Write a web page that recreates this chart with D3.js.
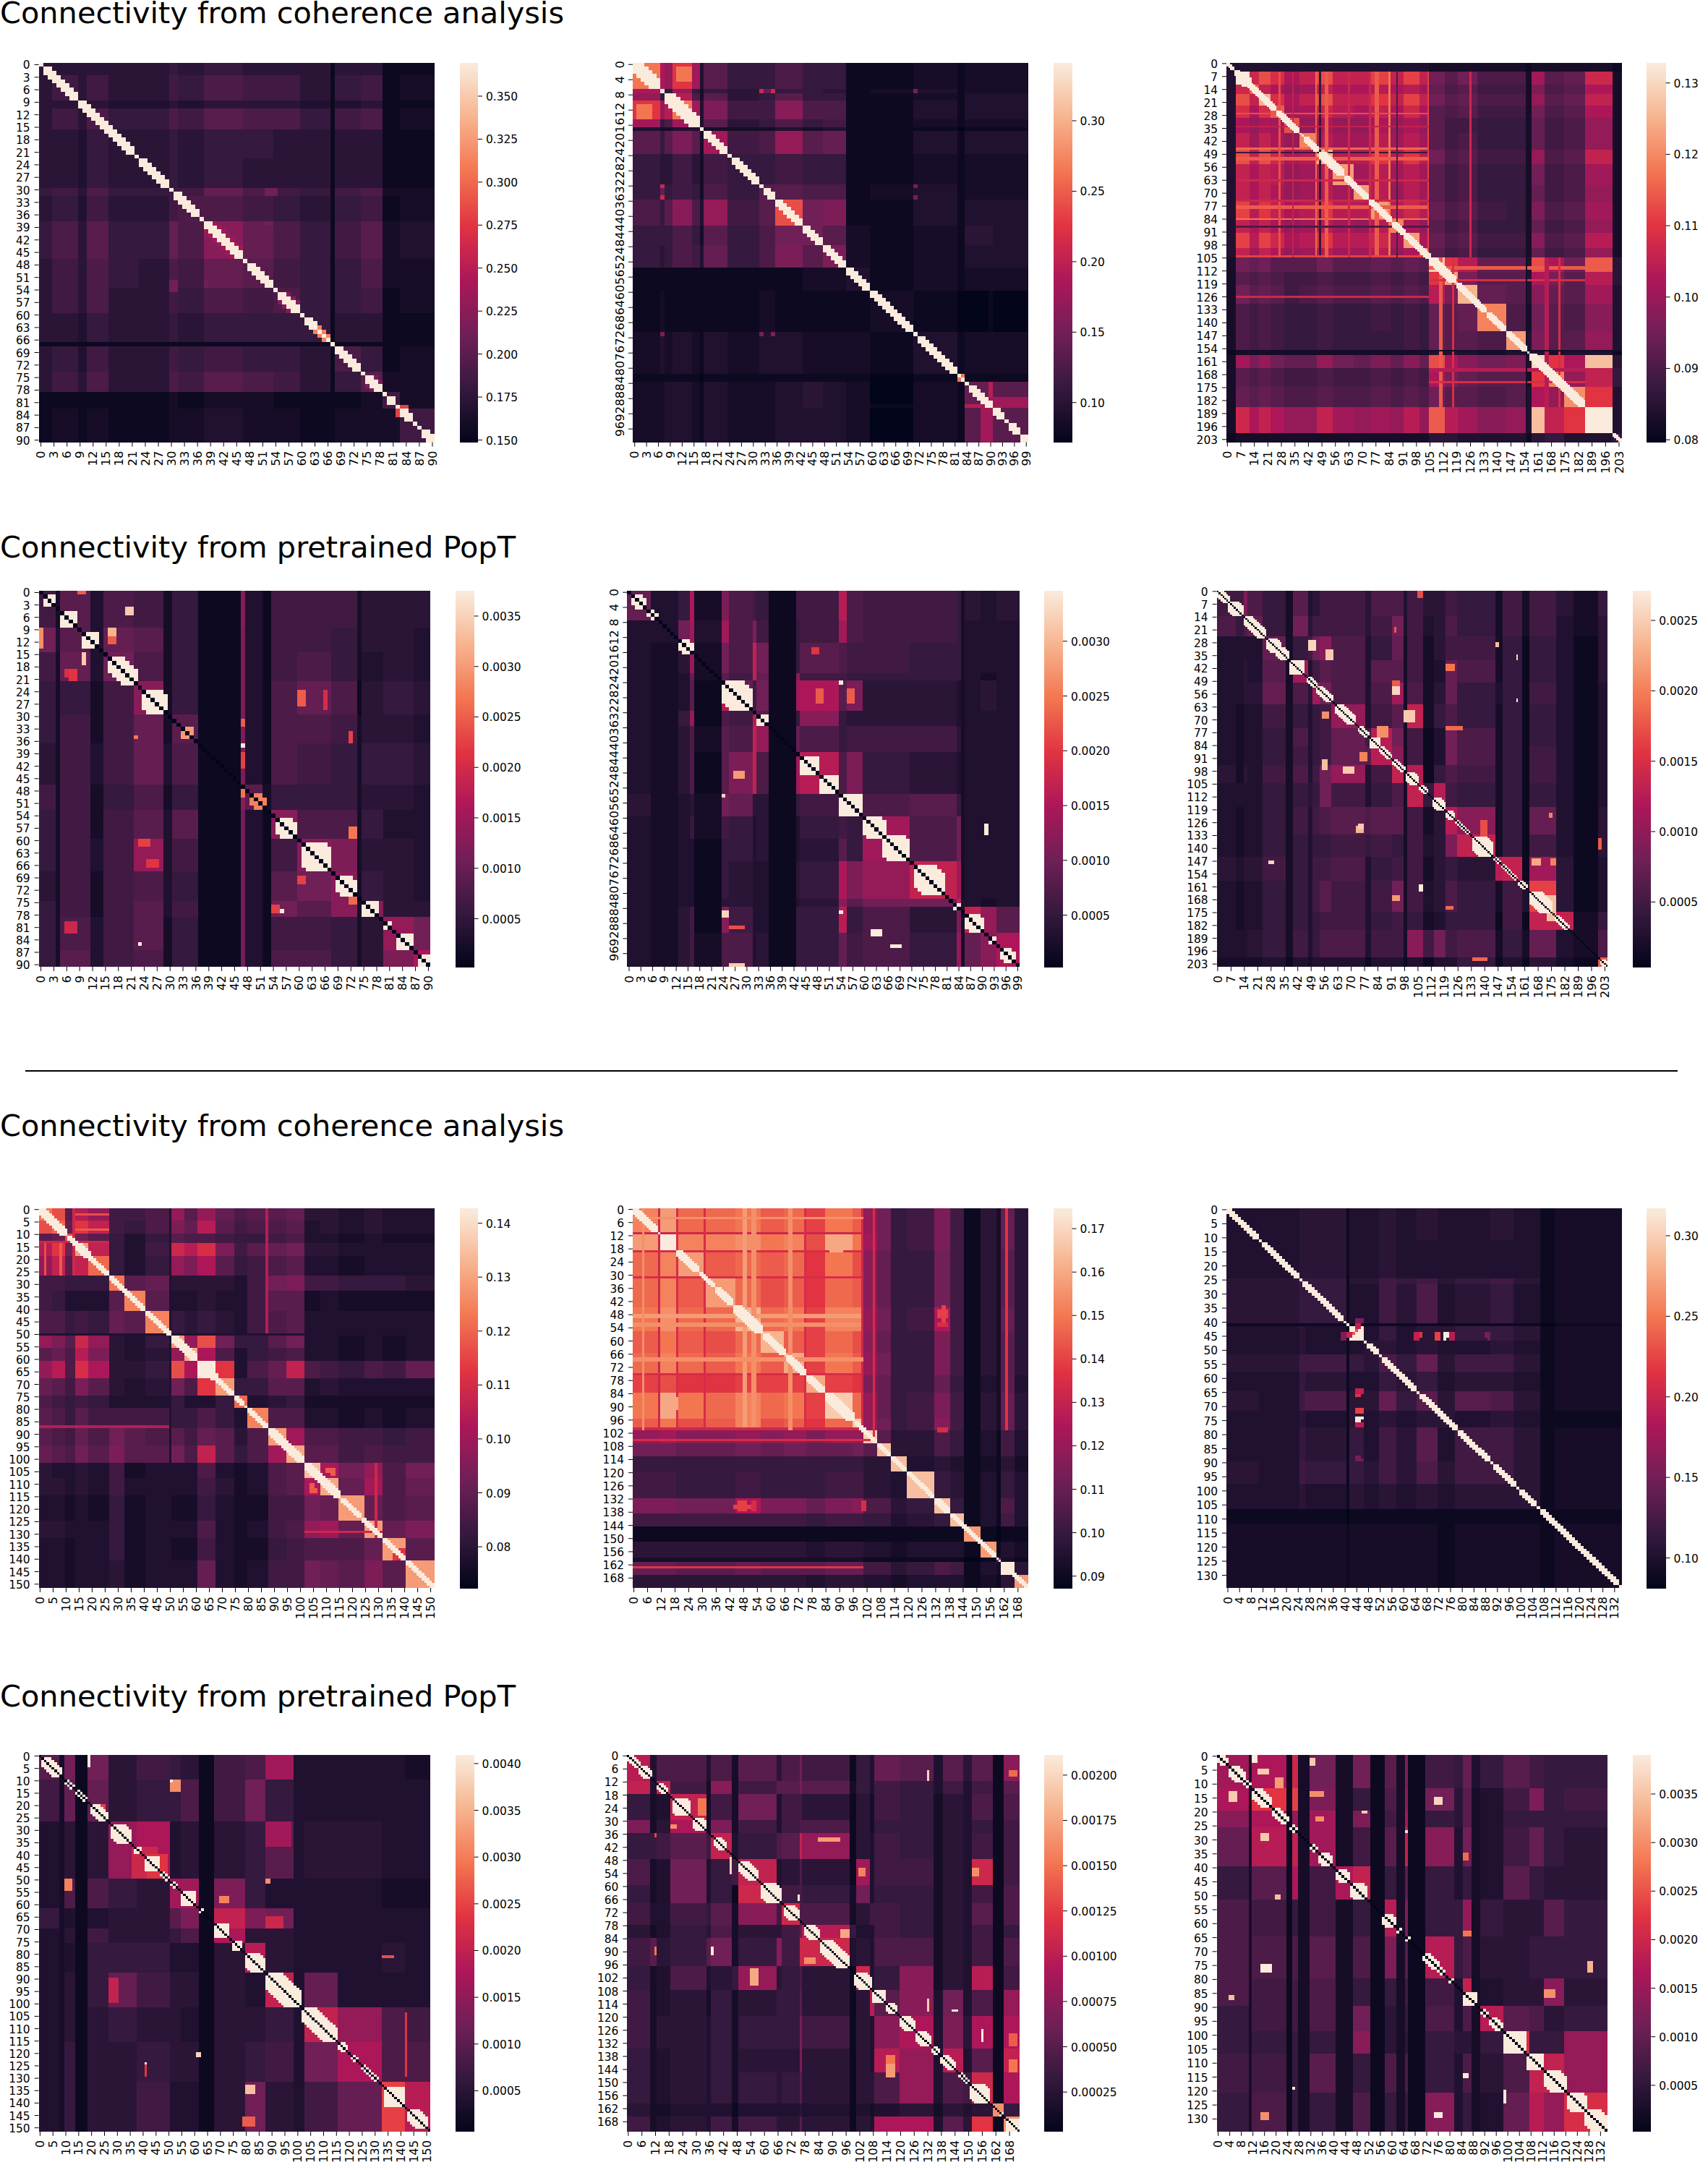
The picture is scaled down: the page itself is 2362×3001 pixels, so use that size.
<!DOCTYPE html>
<html><head><meta charset="utf-8">
<script src="https://cdn.jsdelivr.net/npm/d3@7"></script>
<style>html,body{margin:0;padding:0;background:#fff}svg{display:block}text{font-family:"DejaVu Sans";fill:#000}</style>
</head><body><svg id="c" width="2362" height="3001"></svg>
<script>
// Colormap stops (seaborn rocket)
const rocketStops=[0,1/7,2/7,3/7,4/7,5/7,6/7,1];
const rocketColors=["#03051a","#35193e","#701f57","#ad1759","#e13342","#f37651","#f6b48f","#faebdd"];
const titles=["Connectivity from coherence analysis","Connectivity from pretrained PopT"];

// Grid cells hold a level 0..z (base 36): 0 = bottom of the colour bar, z = top.
// ---- coherence panels: symmetric, upper triangle only
const p1Edges=[0,3,9,11,16,23,30,32,38,47,54,60,67,68,74,79,83,91];
const p1Grid=["4 4 4 4 4 4 5 4 5 4 4 4 1 4 4 1 1","6 4 6 4 4 6 5 7 6 6 4 1 5 6 1 2","4 4 3 3 4 3 4 4 4 3 1 3 4 1 1","7 5 5 7 6 8 7 7 5 1 6 7 1 2","4 4 5 4 5 5 4 4 1 4 4 1 1","4 5 4 5 4 4 4 1 4 4 1 1","6 6 9 7 6 5 1 6 7 2 2","7 7 6 5 4 1 5 6 1 2","c 9 7 5 1 6 8 2 3","8 6 5 1 5 7 2 2","7 5 1 5 6 1 2","5 1 4 4 1 1","1 1 1 1 1","7 5 1 2","8 2 2","6 2","6"];
const p1Blocks=[[1,8,1],[9,21,1],[23,29,1],[31,36,1],[38,46,2,"e"],[38,46,1],[48,53,1],[55,59,2,"c"],[55,59,1],[61,66,1],[63,66,1,"q"],[68,73,1],[75,78,2,"b"],[75,78,1],[80,81,1],[83,85,1],[88,90,1]];
const p1Patches=[[30,31,38,43,"9"],[30,32,52,55,"a"],[52,54,38,43,"a"],[39,44,52,54,"9"],[82,83,83,85,"l"]];

const p2Edges=[0,7,8,10,15,17,18,24,32,36,43,48,54,60,71,82,84,90,91,100];
const p2Grid=["p f d k e 3 8 5 5 7 5 5 1 1 2 1 2 2 2","5 5 d 5 2 5 4 9 5 5 4 1 2 3 1 2 2 2","j g 7 2 8 4 5 8 5 5 1 1 2 1 3 3 3","p e 3 b 6 6 c 7 7 1 1 3 1 3 3 3","9 3 8 4 5 7 5 6 1 1 2 1 2 2 2","2 2 2 2 3 2 3 1 1 1 0 1 1 1","e 6 7 d 8 9 1 1 3 1 3 3 3","5 5 6 5 5 1 1 2 1 2 2 2","8 8 7 7 1 2 3 1 2 2 2","m a b 1 1 3 1 3 3 3","a 8 2 1 2 1 4 4 3","b 2 1 2 1 3 3 3","3 1 2 1 2 2 2","2 1 0 0 1 0","3 1 2 2 2","f 1 1 1","9 g 8","8 e","8"];
const p2Blocks=[[0,6,2],[8,16,2],[18,23,1],[25,31,1],[33,35,1],[36,42,1],[43,47,1],[48,53,1],[54,59,1],[60,70,1],[72,81,1],[82,83,1,"p"],[85,90,1],[91,93,1],[95,97,1],[98,99,1]];
const p2Patches=[[7,8,32,33,"i"],[7,8,35,36,"i"],[7,8,71,72,"b"],[32,33,71,72,"b"],[35,36,71,72,"b"],[1,5,11,15,"p"],[88,91,90,100,"e"]];

const p3Edges=[0,5,12,17,23,30,38,47,55,66,75,85,92,100,105,113,120,130,145,155,158,165,175,186,200,205];
const p3Grid=["3 3 3 3 3 3 3 3 3 3 3 3 3 3 2 2 2 2 2 1 2 2 2 2 1","z i m j f h m h h l h l h a 8 a 7 7 2 e 8 9 i 2","n h f d e h f f g f g e 9 7 8 6 6 2 b 7 8 f 2","u j f h m h h k h l h a 8 9 7 7 2 d 8 9 h 2","n e f i g f h f i f 8 7 8 6 6 2 a 7 8 f 2","m d f d d f d f d 8 6 6 5 5 2 9 6 7 d 2","q g e e g e g e 8 6 7 5 5 2 9 6 7 d 2","u g g k g k g a 7 8 6 6 2 d 7 8 h 2","s e g e g e 8 6 7 5 5 2 a 6 7 e 2","s g d g e 8 6 7 5 5 2 9 6 7 d 2","s g i g 9 7 8 6 5 2 b 7 8 e 2","q f d 8 6 7 5 5 2 9 6 7 d 2","s f 9 7 8 6 6 2 c 7 8 g 2","s 8 6 7 5 5 2 9 6 7 d 2","w k g 9 9 3 m f a n 4","s b 8 8 3 f b 8 g 4","u 9 8 3 c 9 8 e 3","q 7 2 a 8 7 c 3","s 3 b 8 8 d 3","5 3 2 3 3 1","x k f v 4","q d h 5","r k 3","z 3","5"];
const p3Blocks=[[0,3,1],[4,25,2],[8,12,4],[26,37,2],[40,47,2],[48,60,3],[61,73,2],[74,85,2],[86,92,2],[92,105,2],[105,118,3],[119,134,2],[135,144,2],[145,155,2],[157,185,3],[186,199,14],[200,204,1]];
const p3Patches=[[48,49,5,105,"5"],[84,85,5,105,"p"],[46,47,5,105,"o"],[77,79,5,105,"n"],[104,105,5,105,"l"],[27,28,5,105,"m"],[34,35,5,105,"h"],[74,75,5,105,"i"],[51,53,5,105,"n"],[63,64,5,105,"i"],[88,89,5,105,"7"],[110,112,105,186,"n"],[117,118,105,186,"j"],[172,173,105,186,"j"],[165,167,105,186,"g"],[155,156,5,205,"2"],[126,127,5,105,"i"]];

const p7Edges=[0,5,10,14,19,27,33,41,51,56,61,68,75,80,88,95,102,108,115,125,132,141,152];
const p7Grid=["p m 8 g d 6 6 7 d 8 d 9 7 8 8 9 4 4 3 4 3 3","o 9 k h 6 5 7 b 9 g 8 6 7 7 8 3 4 3 4 3 3","m a 8 5 3 5 8 7 7 6 5 5 6 7 3 3 2 3 2 2","s h 5 3 6 i g j b 6 8 9 a 4 4 3 3 3 3","o 5 3 5 d b f 8 5 6 7 8 3 3 2 3 3 3","p 8 9 4 4 4 4 3 6 a b 6 6 5 5 5 4","q 8 3 3 4 3 3 6 8 8 2 3 2 2 2 2","q 5 4 5 4 3 6 7 8 3 3 3 3 3 3","s d m a 5 5 8 a 3 3 2 3 2 3","t f 7 3 5 6 7 3 3 2 3 2 3","z k 3 7 9 h 7 6 5 7 6 9","s 5 5 8 8 3 4 3 3 3 3","o 3 4 5 2 2 2 2 2 2","q 7 7 3 3 2 3 2 3","s e 7 7 6 6 5 6","t 8 8 6 7 6 6","v f a d 7 a","t 9 e 7 9","s 9 7 8","s 9 b","s 8","s"];
const p7Blocks=[[0,10,2],[11,14,1],[14,19,2],[19,26,1],[27,40,1],[41,50,1],[51,60,2],[61,68,2],[62,67,5],[68,74,1],[75,78,1],[80,87,1],[88,101,2],[102,115,2],[116,123,1],[124,131,1],[132,140,1],[141,151,1]];
const p7Patches=[[8,9,14,27,"n"],[2,3,14,27,"m"],[87,88,0,51,"g"],[50,51,0,102,"3"],[136,141,136,141,"k"],[13,14,0,27,"i"],[104,106,110,114,"n"],[112,114,104,107,"n"],[129,130,102,132,"i"]];

const p8Edges=[0,12,19,32,45,56,66,76,84,96,101,107,113,120,132,139,145,152,159,161,167,173];
const p8Grid=["q s o o p n o l p n d a 5 6 b 6 1 4 2 9 4","z q q r p q m t p e a 5 6 b 6 1 4 2 9 4","s n o n o k p m c 9 5 5 a 6 1 4 2 8 4","s o m n k o n c 9 5 5 a 6 1 4 2 8 4","u o p l q q d a 5 6 f 6 1 4 2 9 4","u n l o m c 9 5 5 b 6 1 4 2 8 4","t l p n d a 5 5 b 6 1 4 2 8 4","t l k b 9 5 5 9 5 1 3 2 8 3","w o d 9 5 6 b 6 1 4 2 9 4","w d a 5 6 c 6 1 4 2 9 4","w 8 4 4 7 5 1 3 1 6 3","v 4 4 7 5 1 3 1 6 3","v 3 4 3 1 2 1 4 2","v 5 4 1 3 1 5 3","v 5 1 3 1 7 3","v 1 3 1 6 3","s 1 0 1 1","s 1 3 2","a 2 1","z 4","s"];
const p8Blocks=[[0,10,2],[12,12,0],[12,18,6],[19,28,2],[29,35,1],[36,43,2],[44,56,3],[57,66,2],[67,75,2],[76,83,2],[84,96,3],[97,106,1],[107,112,1],[113,119,1],[120,131,1],[132,138,2],[139,145,1],[145,158,1],[161,165,4],[166,172,1]];
const p8Patches=[[11,12,0,101,"i"],[31,32,0,101,"j"],[19,20,0,101,"j"],[75,76,0,101,"j"],[105,106,0,107,"j"],[48,50,0,101,"s"],[52,54,0,101,"r"],[100,101,0,101,"i"],[163,164,0,101,"k"],[86,92,12,20,"t"],[135,137,44,52,"l"],[46,50,133,138,"l"],[52,54,133,138,"j"],[100,102,133,138,"j"],[4,5,0,101,"r"],[68,70,0,101,"r"]];

const p9Edges=[0,11,25,27,41,42,47,52,58,65,72,78,90,98,107,112,135];
const p9Grid=["3 3 4 4 1 3 3 4 3 4 3 3 4 3 1 2","3 4 4 1 3 3 4 3 3 3 3 3 3 1 2","6 5 1 4 4 6 5 6 4 5 6 4 1 2","5 1 3 3 6 4 7 3 4 5 3 1 2","1 1 1 1 1 1 1 1 1 1 0 1","z 3 5 3 4 4 5 5 4 1 2","4 4 3 4 3 3 4 3 1 2","7 5 9 4 6 6 4 1 2","4 5 3 4 4 3 1 2","8 4 8 7 4 1 2","4 3 4 3 1 1","6 6 4 1 2","6 4 1 2","4 1 2","1 1","2"];
const p9Blocks=[[0,10,1],[12,24,1],[26,39,1],[40,40,0],[42,43,1],[44,46,2],[48,51,1],[53,64,1],[66,78,1],[79,89,1],[91,98,1],[100,105,1],[107,133,1],[134,134,0]];
const p9Patches=[[44,46,40,43,"h"],[44,46,65,67,"k"],[44,46,71,73,"m"],[44,46,74,75,"q"],[44,46,75,76,"z"],[44,46,76,78,"h"],[44,46,88,90,"b"],[39,41,44,47,"b"],[74,75,44,47,"z"],[71,73,44,47,"l"],[64,66,44,47,"h"],[76,78,44,47,"g"],[89,90,44,47,"a"],[43,44,42,45,"m"]];

// ---- PopT panels: rows and columns differ
const p4RowEdges=[0,9,15,22,30,37,47,53,60,68,75,79,87,91];
const p4ColEdges=[0,4,5,12,15,22,29,31,37,47,48,52,54,60,68,74,75,80,87,91];
const p4Grid=["6 2 8 3 7 6 2 5 1 c 3 1 6 6 6 2 4 4 4","a 3 8 3 9 8 2 5 1 b 3 1 6 6 5 2 4 4 3","6 2 9 3 a 7 2 5 1 b 3 1 6 7 5 2 3 4 3","5 2 5 2 6 c 2 5 1 b 3 1 7 9 7 1 4 5 4","5 2 6 2 6 9 2 8 1 b 3 1 7 7 6 2 4 4 3","4 2 6 3 6 9 3 7 1 b 3 1 7 6 5 2 5 5 4","6 2 6 2 5 7 2 5 1 c 8 2 5 5 5 2 4 4 3","5 2 6 2 6 8 3 8 1 a 3 1 c 7 7 2 5 3 3","5 2 6 3 6 d 3 6 1 a 3 1 6 c b 2 4 4 3","4 2 6 2 6 7 3 5 1 a 3 1 8 a c 2 5 4 3","5 2 6 2 6 8 3 6 1 a 3 1 a 8 c 2 c 4 4","5 2 7 3 6 8 2 5 1 a 3 1 6 6 5 2 4 d a","5 2 8 3 6 7 2 5 1 a 3 1 7 7 5 2 4 b f"];
const p4Blocks=[[1,3,2],[5,8,3],[10,13,3],[16,22,3],[24,29,4],[33,35,2,"s"],[49,52,2,"q"],[55,59,3],[61,67,5],[69,73,3],[75,78,3],[80,81,1],[83,86,3],[88,90,2]];
const p4Patches=[[4,6,20,22,"w"],[9,11,16,18,"u"],[11,13,16,18,"n"],[19,21,6,8,"j"],[15,18,10,11,"w"],[9,14,0,1,"r"],[24,28,60,62,"n"],[24,29,66,67,"j"],[34,37,72,73,"l"],[35,36,22,23,"p"],[57,60,72,74,"p"],[60,62,23,26,"l"],[65,67,25,28,"k"],[69,71,60,62,"l"],[77,78,55,57,"z"],[85,86,23,24,"z"],[37,38,47,48,"z"],[39,43,47,48,"l"],[31,33,47,48,"n"],[48,50,47,48,"p"],[80,83,6,9,"i"],[0,1,9,11,"n"],[10,12,12,14,"l"],[72,76,72,74,"o"],[76,78,54,56,"l"],[34,36,34,36,"q"],[19,22,7,9,"k"]];

const p5RowEdges=[0,8,14,22,24,32,36,43,54,60,66,72,82,84,91,100];
const p5ColEdges=[0,6,13,16,17,24,26,32,33,36,43,44,54,56,60,72,84,85,86,90,94,100];
const p5Grid=["9 3 5 f 2 b 7 6 5 1 6 6 g 7 6 6 5 2 4 3 4","3 3 a e 3 e 7 b 6 1 5 6 e 7 6 6 5 2 3 3 3","3 2 4 d 2 a 7 h a 1 5 8 7 6 6 5 5 2 3 3 3","3 2 3 9 2 8 6 h 9 1 c 6 6 5 5 5 5 2 3 2 3","3 2 3 8 1 g 9 6 a 1 e f 8 b 4 4 3 2 3 4 3","3 2 5 d 1 7 6 g 8 1 5 c 5 4 4 4 3 2 3 3 3","3 2 4 7 2 8 7 h d 1 9 7 5 6 6 6 4 2 3 3 3","3 2 4 7 1 8 b h 7 1 e g 7 b 5 4 3 2 3 3 3","4 2 3 4 2 a 9 4 4 1 5 6 g e 7 8 5 2 3 3 3","3 2 3 5 2 6 5 3 4 1 3 5 6 5 e 7 a 2 3 3 3","3 2 3 3 1 5 5 3 4 1 3 4 8 5 e 7 a 2 3 3 3","3 2 3 3 1 5 4 3 3 1 4 5 f b d h e 2 3 3 3","3 2 3 3 1 4 4 3 3 1 3 4 c 8 a a h 3 3 2 3","3 2 4 6 1 c 6 3 3 1 5 5 g 5 7 4 b 2 h d 8","3 2 4 6 2 7 7 3 4 1 5 5 9 6 7 5 d 2 9 c f"];
const p5Blocks=[[1,4,2],[5,7,1],[13,16,2],[24,31,5],[33,35,2],[44,48,4],[49,53,4],[54,59,5],[60,65,4],[65,71,5],[73,80,5],[83,84,1],[86,90,3],[92,93,1],[95,98,2]];
const p5Patches=[[90,92,62,65,"z"],[94,95,67,70,"z"],[62,65,91,92,"z"],[24,25,54,55,"z"],[85,87,24,26,"x"],[85,86,54,55,"z"],[26,30,48,50,"n"],[26,30,56,58,"n"],[48,50,27,30,"s"],[99,100,26,30,"w"],[54,55,24,25,"x"],[15,17,47,49,"k"],[89,90,26,30,"m"]];

const p6RowEdges=[0,14,25,38,50,62,75,85,95,105,118,133,145,158,175,185,200,205];
const p6ColEdges=[0,10,14,16,24,36,40,48,50,54,60,78,81,92,98,100,108,114,120,126,146,150,160,164,178,187,200,205];
const p6Grid=["6 6 b 7 5 2 8 3 4 6 6 4 7 7 3 6 4 4 6 5 2 6 2 6 4 2 5","7 5 7 9 5 2 a 4 6 6 6 4 6 a 3 6 3 4 7 5 2 6 2 6 3 2 4","3 3 3 3 9 2 5 6 a c 7 3 5 9 2 6 2 4 6 6 2 5 1 5 3 1 4","3 3 4 3 8 2 e 3 6 8 7 3 8 8 2 6 2 3 9 7 2 5 1 5 3 1 4","3 3 4 4 9 2 7 4 e a 7 3 7 e 2 7 2 4 9 5 3 5 1 6 3 1 3","3 2 3 3 6 2 5 3 5 6 d 3 6 8 2 h 2 5 7 5 2 5 1 5 3 1 3","3 2 3 3 5 2 7 3 5 6 9 6 g a 2 6 1 3 a 7 2 5 1 5 3 1 3","3 2 3 3 5 2 6 3 5 6 9 8 g c 2 6 1 3 a 7 2 5 1 6 3 1 3","4 2 4 3 6 2 7 3 6 a d 3 6 h 2 g 1 5 7 6 2 5 1 6 3 1 3","3 3 3 3 5 2 5 4 5 a 6 3 5 7 2 h 5 g 6 5 2 5 1 5 3 1 3","3 2 3 3 5 2 6 3 6 7 8 7 8 8 2 6 2 4 g c 2 5 1 9 3 1 4","3 2 3 3 5 2 5 3 5 5 6 5 6 5 2 6 3 4 b h 2 5 1 6 3 1 4","4 3 4 4 6 2 5 3 6 6 7 3 5 6 2 6 2 4 5 4 g h 1 e 4 1 3","3 2 3 3 5 2 5 3 6 8 6 3 6 a 2 6 3 4 7 5 2 6 3 l 4 1 3","3 2 3 3 5 2 5 3 5 6 6 3 5 6 2 5 2 3 5 5 1 6 1 h h 2 5","3 3 3 4 5 2 6 3 5 7 7 3 6 6 2 c 6 a 6 7 2 5 2 9 3 2 7","2 2 2 2 3 1 3 2 3 3 3 1 3 3 1 3 1 3 3 5 1 3 1 4 2 1 n"];
const p6Blocks=[[0,6,3],[6,13,5],[14,25,4],[26,33,5],[31,37,4],[38,45,7],[47,52,2],[52,60,3],[62,72,4],[74,79,2],[80,85,5],[85,91,2],[92,98,2],[99,105,4],[106,110,2],[113,119,4],[120,124,3],[125,132,1],[134,144,7],[145,148,1],[149,157,1],[158,162,2],[164,175,6],[177,184,2],[201,204,2]];
const p6Patches=[[27,33,48,52,"x"],[32,38,57,61,"w"],[49,54,92,96,"n"],[52,57,92,96,"x"],[65,72,98,104,"w"],[96,100,66,72,"w"],[92,98,55,58,"v"],[66,70,55,59,"r"],[160,164,106,108,"z"],[166,169,92,96,"s"],[40,44,120,125,"p"],[28,31,146,148,"v"],[35,38,157,158,"x"],[59,61,157,158,"z"],[128,132,73,77,"u"],[147,149,27,30,"x"],[146,150,165,170,"t"],[146,150,175,178,"q"],[172,174,120,124,"o"],[200,202,134,142,"o"],[135,141,200,202,"n"],[74,80,84,90,"r"],[88,93,75,79,"q"],[74,76,120,129,"o"],[166,180,173,178,"v"],[125,135,138,142,"m"],[127,130,74,77,"w"],[121,124,174,176,"q"],[0,4,105,108,"m"],[20,23,93,94,"n"]];

const p10RowEdges=[0,10,27,50,62,70,76,88,102,116,132,152];
const p10ColEdges=[0,8,10,14,19,27,38,51,55,62,68,80,88,99,103,116,133,142,152];
const p10Grid=["8 2 a 1 a 4 6 5 4 1 6 7 e 3 3 3 3 2","6 2 9 1 9 4 5 5 7 1 6 a 5 3 3 3 3 3","3 2 4 1 4 d f 3 4 1 4 5 8 3 4 4 3 3","3 2 7 1 7 5 4 e e 1 b 5 3 3 3 3 2 2","5 2 3 1 3 4 4 8 b 1 h b a 3 3 3 3 3","3 2 4 1 6 4 4 5 7 1 f 4 4 3 3 3 3 3","3 2 3 1 5 5 5 3 3 1 4 g 4 3 3 3 4 3","3 2 4 1 5 9 6 4 4 1 4 3 h 3 9 3 3 3","3 2 4 1 4 5 4 4 3 1 4 4 5 3 h d 7 6","3 2 5 1 4 4 5 4 4 1 4 5 6 3 a f 7 7","3 2 5 1 4 4 6 3 3 1 4 a 4 3 6 9 l g"];
const p10Blocks=[[1,8,3],[10,13,1],[14,18,1],[20,26,3],[28,35,5],[37,39,2],[41,46,5],[47,50,1],[51,53,1],[55,60,5],[62,63,1],[68,73,5],[75,78,3],[80,87,5],[88,101,6],[102,115,5],[116,119,2],[121,123,1],[125,131,1],[134,141,7],[143,150,4]];
const p10Patches=[[0,5,19,20,"z"],[133,137,80,84,"v"],[120,122,61,63,"x"],[10,15,51,55,"r"],[50,55,10,13,"q"],[27,37,88,98,"e"],[90,100,27,31,"h"],[81,82,133,138,"m"],[104,130,142,143,"k"],[124,130,41,42,"k"],[20,24,20,26,"l"],[57,60,70,74,"q"],[50,52,88,90,"r"],[37,50,36,46,"i"],[40,50,42,50,"k"],[65,70,88,95,"i"],[10,11,51,52,"z"],[124,125,41,42,"z"],[146,150,79,84,"n"]];

const p11RowEdges=[0,12,18,30,36,48,60,68,78,84,97,108,120,135,146,160,166,173];
const p11ColEdges=[0,10,13,19,35,37,46,49,66,68,76,77,98,101,107,109,120,135,139,148,152,161,166,173];
const p11Grid=["g 3 7 7 3 7 2 8 4 7 a 6 1 5 3 9 8 3 8 4 8 1 c","h 3 h 6 2 c 2 6 8 8 a 8 2 5 3 6 5 3 6 3 6 1 8","5 2 3 h 2 6 2 a 3 6 6 4 1 4 2 6 5 2 4 3 7 1 7","b 2 4 f 2 b 2 6 3 6 7 7 1 4 2 5 5 2 4 3 5 1 6","5 5 6 8 6 h 3 5 7 8 h d 1 4 3 6 5 2 4 3 6 1 6","7 2 3 a 3 5 6 h 3 4 7 4 1 e 3 6 6 2 4 3 i 1 6","5 2 3 a 3 5 1 i 3 6 7 5 2 a 3 5 5 2 4 3 6 1 7","6 3 3 6 5 8 2 c 6 i 7 7 2 4 6 6 5 2 4 3 8 1 7","4 2 3 5 4 7 2 4 4 6 9 g 5 3 3 6 5 2 4 3 6 1 5","6 8 4 5 8 a 2 5 c 6 i i 3 4 3 7 7 2 4 3 6 1 7","5 2 3 7 3 4 5 d 4 5 7 4 1 i 3 5 c 2 4 3 g 1 6","6 2 3 4 2 5 2 4 5 5 8 4 1 4 g 8 c 3 a 3 7 1 d","6 2 4 4 3 5 2 5 5 5 b 6 1 4 3 c f 3 b 4 f 1 f","5 2 3 4 3 5 2 4 4 4 b 4 1 4 3 g d 3 g 3 8 1 h","5 2 3 4 3 5 2 5 4 5 8 4 1 4 4 7 d 3 7 6 i 1 f","4 2 2 3 3 3 1 3 3 3 4 3 1 3 2 3 4 2 4 3 4 r 5","6 2 3 4 3 6 2 6 4 4 8 4 1 4 3 f f 3 8 4 k 1 r"];
const p11Blocks=[[0,5,2],[5,10,3],[13,17,2],[20,27,6],[29,34,4],[38,43,3],[49,57,4],[59,67,6],[69,75,4],[78,84,4],[85,97,5],[100,107,5],[108,113,5],[114,118,3],[120,126,4],[127,133,4],[134,137,2],[138,144,3],[146,150,1],[151,159,6],[164,165,1],[167,172,6]];
const p11Patches=[[7,12,132,133,"x"],[47,55,45,46,"x"],[112,118,132,133,"w"],[64,67,75,76,"z"],[88,92,37,38,"z"],[88,92,12,13,"p"],[142,148,114,118,"s"],[138,142,114,118,"p"],[36,38,12,13,"l"],[38,40,84,94,"s"],[52,56,102,105,"q"],[52,56,152,155,"r"],[117,118,143,146,"z"],[126,132,156,157,"z"],[98,106,54,58,"t"],[80,84,94,98,"t"],[93,96,78,83,"r"],[7,10,168,172,"o"],[20,28,31,35,"p"],[32,34,19,22,"r"],[128,134,168,172,"n"],[140,146,168,172,"p"]];

const p12RowEdges=[0,12,20,26,40,52,65,80,90,99,107,121,135];
const p12ColEdges=[0,11,12,24,26,28,32,41,47,53,58,62,65,66,72,82,85,88,91,99,108,113,120,135];
const p12Grid=["e 2 f 1 i 2 a 2 a 1 8 2 b 1 6 5 9 3 5 8 6 5 5","f 2 k 1 l 2 b 2 5 1 7 2 c 1 a 4 8 2 3 6 b 5 6","c 2 f 1 d 2 e 2 b 1 6 2 e 1 5 4 8 2 3 5 5 5 5","9 2 g 1 h 2 e 2 6 1 8 2 h 1 c 3 a 2 3 6 9 5 4","5 2 8 1 f 2 6 f h 1 5 2 8 1 5 3 5 2 3 8 5 4 4","7 2 6 1 5 2 6 2 5 1 g 2 b 1 5 5 d 2 5 4 4 8 5","7 2 7 1 7 2 8 2 7 1 b 2 8 1 g 5 7 2 4 4 5 5 5","7 2 6 1 6 2 7 2 5 1 5 2 6 1 6 3 h 2 3 4 4 c 4","5 2 6 1 6 2 7 2 a 1 4 2 5 1 7 3 7 2 g 8 7 4 5","5 2 5 1 5 2 5 2 c 1 4 2 4 1 5 4 4 2 5 j 5 5 d","6 2 6 1 5 2 8 2 5 1 7 2 7 1 5 3 7 2 4 7 h h d","5 2 7 1 5 2 5 2 7 1 5 2 5 1 c 3 5 2 3 9 g d j"];
const p12Blocks=[[0,3,2],[4,9,3],[9,11,1],[12,18,3],[19,24,2],[25,27,1],[32,34,1],[35,39,3],[41,45,3],[46,51,4],[57,61,3],[62,63,1],[65,66,1],[71,76,2],[76,78,1],[80,81,1],[85,89,4],[91,93,1],[94,98,2],[99,106,7],[107,112,5],[113,120,5],[121,127,5],[127,134,5]];
const p12Patches=[[0,3,12,14,"z"],[1,4,32,34,"w"],[5,7,14,18,"w"],[8,12,20,23,"s"],[13,17,4,7,"w"],[75,78,15,19,"z"],[128,131,15,18,"r"],[128,130,75,78,"z"],[15,18,75,78,"x"],[28,31,15,18,"w"],[20,21,50,52,"w"],[50,52,20,22,"v"],[22,24,34,37,"r"],[84,87,113,117,"r"],[114,116,85,87,"z"],[86,88,4,6,"v"],[27,28,65,66,"z"],[119,120,26,27,"z"],[74,78,128,130,"u"],[35,38,85,87,"o"],[63,65,85,88,"p"],[13,15,32,37,"r"],[120,125,99,100,"z"]];

// Tick labels and colour-bar ticks
const cbarTicks=[
 d3.range(9).map(i=>0.15+i*0.025),[0.10,0.15,0.20,0.25,0.30],[0.08,0.09,0.10,0.11,0.12,0.13],
 [0.0005,0.0010,0.0015,0.0020,0.0025,0.0030,0.0035],[0.0005,0.0010,0.0015,0.0020,0.0025,0.0030],[0.0005,0.0010,0.0015,0.0020,0.0025],
 [0.08,0.09,0.10,0.11,0.12,0.13,0.14],[0.09,0.10,0.11,0.12,0.13,0.14,0.15,0.16,0.17],[0.10,0.15,0.20,0.25,0.30],
 [0.0005,0.0010,0.0015,0.0020,0.0025,0.0030,0.0035,0.0040],d3.range(1,9).map(i=>i*0.00025),[0.0005,0.0010,0.0015,0.0020,0.0025,0.0030,0.0035]];
const cbarFormats=[".3f",".2f",".2f",".4f",".4f",".4f",".2f",".2f",".2f",".4f",".5f",".4f"];
const nodeCounts=[91,100,205,91,100,205,152,173,135,152,173,135];
const colorRanges=[[.1485,.3693],[.0716,.341],[.0796,.1328],[.00002,.00375],[.000025,.00346],[.000037,.00271],[.0723,.1427],[.0872,.1746],[.0812,.3168],[.00006,.00409],[.00003,.00211],[.00002,.0039]];
const xTickSteps=[3,3,7,3,3,7,5,6,4,5,6,4];
const yTickSteps=[3,4,7,3,4,7,5,6,5,5,6,5];

// Layout (separate from data)
const colX=[[[53.6,601,635.7,661],[875,1422,1456.6,1482.6],[1696,2243,2277,2303.6]],[[53.6,595.4,630,655.6],[867.3,1410.2,1443.9,1469.9],[1682.6,2223.4,2258,2283.2]]];
const rowY=[[86.6,611.6],[816.6,1337],[1671,2196],[2426.8,2947.8]];
const titleLayout=[[0,31.5],[1,771],[0,1571],[1,2360]];
const FS=16.4, SX=0.94;

const panels=[
 {sym:true,re:p1Edges,ce:p1Edges,g:p1Grid,b:p1Blocks,p:p1Patches,diag:"z"},
 {sym:true,re:p2Edges,ce:p2Edges,g:p2Grid,b:p2Blocks,p:p2Patches,diag:"z",rotY:true},
 {sym:true,re:p3Edges,ce:p3Edges,g:p3Grid,b:p3Blocks,p:p3Patches,diag:"z"},
 {re:p4RowEdges,ce:p4ColEdges,g:p4Grid,b:p4Blocks,p:p4Patches,diag:"0"},
 {re:p5RowEdges,ce:p5ColEdges,g:p5Grid,b:p5Blocks,p:p5Patches,diag:"0",rotY:true},
 {re:p6RowEdges,ce:p6ColEdges,g:p6Grid,b:p6Blocks,p:p6Patches,diag:"0"},
 {sym:true,re:p7Edges,ce:p7Edges,g:p7Grid,b:p7Blocks,p:p7Patches,diag:"z"},
 {sym:true,re:p8Edges,ce:p8Edges,g:p8Grid,b:p8Blocks,p:p8Patches,diag:"z"},
 {sym:true,re:p9Edges,ce:p9Edges,g:p9Grid,b:p9Blocks,p:p9Patches,diag:"z"},
 {re:p10RowEdges,ce:p10ColEdges,g:p10Grid,b:p10Blocks,p:p10Patches,diag:"0"},
 {re:p11RowEdges,ce:p11ColEdges,g:p11Grid,b:p11Blocks,p:p11Patches,diag:"0"},
 {re:p12RowEdges,ce:p12ColEdges,g:p12Grid,b:p12Blocks,p:p12Patches,diag:"0"}
];

const svg=d3.select("#c");
const lvl=c=>parseInt(c,36)/35;

titleLayout.forEach(([ti,y])=>{
  svg.append("text").attr("x",0).attr("y",y).attr("font-size",41)
    .attr("textLength",ti===0?780:713).attr("lengthAdjust","spacingAndGlyphs").text(titles[ti]);
});
svg.append("line").attr("x1",35).attr("x2",2320).attr("y1",1481).attr("y2",1481).attr("stroke","#000").attr("stroke-width",2);

panels.forEach((P,idx)=>{
  const row=Math.floor(idx/3), col=idx%3;
  const [x0,x1,cx0,cx1]=colX[row%2][col], [y0,y1]=rowY[row];
  const n=nodeCounts[idx], [vmin,vmax]=colorRanges[idx];
  const val=c=>vmin+lvl(c)*(vmax-vmin);
  const color=d3.scaleLinear().domain(rocketStops.map(t=>vmin+t*(vmax-vmin))).range(rocketColors).clamp(true);
  const x=d3.scaleLinear().domain([0,n]).range([x0,x1]);
  const y=d3.scaleLinear().domain([0,n]).range([y0,y1]);
  const g=svg.append("g").attr("shape-rendering","crispEdges");
  const rects=[];
  const add=(r0,r1,c0,c1,ch)=>rects.push({r0,r1,c0,c1,v:val(ch)});
  const rows=P.g.map(s=>s.replace(/ /g,""));
  for(let i=0;i<P.re.length-1;i++){
    for(let j=0;j<P.ce.length-1;j++){
      let ch;
      if(P.sym){ const a=Math.min(i,j),b=Math.max(i,j); ch=rows[a][b-a]; }
      else ch=rows[i][j];
      add(P.re[i],P.re[i+1],P.ce[j],P.ce[j+1],ch||"3");
    }
  }
  P.p.forEach(([r0,r1,c0,c1,ch])=>{
    add(r0,r1,c0,c1,ch);
    if(P.sym) add(c0,c1,r0,r1,ch);
  });
  P.b.forEach(([a,b,w,ch])=>{
    for(let i=a;i<=b;i++)for(let j=a;j<=b;j++){
      if(Math.abs(i-j)<=w) add(i,i+1,j,j+1,ch||"z");
    }
  });
  d3.range(n).forEach(i=>add(i,i+1,i,i+1,P.diag));
  g.selectAll("rect").data(rects).join("rect")
    .attr("x",d=>x(d.c0)).attr("y",d=>y(d.r0))
    .attr("width",d=>x(d.c1)-x(d.c0)).attr("height",d=>y(d.r1)-y(d.r0))
    .attr("fill",d=>color(d.v));

  const bandX=d3.scaleBand().domain(d3.range(n)).range([x0,x1]);
  const bandY=d3.scaleBand().domain(d3.range(n)).range([y0,y1]);
  const xt=d3.range(0,n,xTickSteps[idx]), yt=d3.range(0,n,yTickSteps[idx]);
  const ax=svg.append("g").attr("transform",`translate(0,${y1})`)
    .call(d3.axisBottom(bandX).tickValues(xt).tickSize(6).tickSizeOuter(0));
  ax.select(".domain").remove();
  ax.selectAll("line").attr("stroke","#000").attr("stroke-width",1);
  ax.selectAll("text").attr("y",null).attr("dy",null).attr("font-size",FS).attr("text-anchor","end").attr("fill","#000")
    .attr("font-family","DejaVu Sans")
    .attr("transform",`translate(5.6,12) scale(${SX},1) rotate(-90)`);
  const ay=svg.append("g").attr("transform",`translate(${x0},0)`)
    .call(d3.axisLeft(bandY).tickValues(yt).tickSize(6).tickSizeOuter(0));
  ay.select(".domain").remove();
  ay.selectAll("line").attr("stroke","#000").attr("stroke-width",1);
  const yText=ay.selectAll("text").attr("x",null).attr("dy",null).attr("font-size",FS).attr("fill","#000").attr("font-family","DejaVu Sans");
  if(P.rotY) yText.attr("text-anchor","middle").attr("transform",`translate(-12,0) scale(${SX},1) rotate(-90)`);
  else yText.attr("text-anchor","end").attr("transform",`translate(-12,6) scale(${SX},1)`);

  const cy=d3.scaleLinear().domain([vmin,vmax]).range([y1,y0]);
  const slices=d3.range(256).map(i=>vmin+(i/256)*(vmax-vmin));
  const step=(vmax-vmin)/256;
  svg.append("g").attr("shape-rendering","crispEdges").selectAll("rect").data(slices).join("rect")
    .attr("x",cx0).attr("width",cx1-cx0)
    .attr("y",d=>cy(d+step)).attr("height",d=>cy(d)-cy(d+step)+0.5)
    .attr("fill",d=>color(d+step/2));
  const ac=svg.append("g").attr("transform",`translate(${cx1},0)`)
    .call(d3.axisRight(cy).tickValues(cbarTicks[idx]).tickFormat(d3.format(cbarFormats[idx])).tickSize(6).tickSizeOuter(0));
  ac.select(".domain").remove();
  ac.selectAll("line").attr("stroke","#000").attr("stroke-width",1);
  ac.selectAll("text").attr("x",null).attr("dy",null).attr("font-size",FS).attr("fill","#000").attr("font-family","DejaVu Sans")
    .attr("text-anchor","start").attr("transform",`translate(11,6) scale(${SX},1)`);
});
</script></body></html>
